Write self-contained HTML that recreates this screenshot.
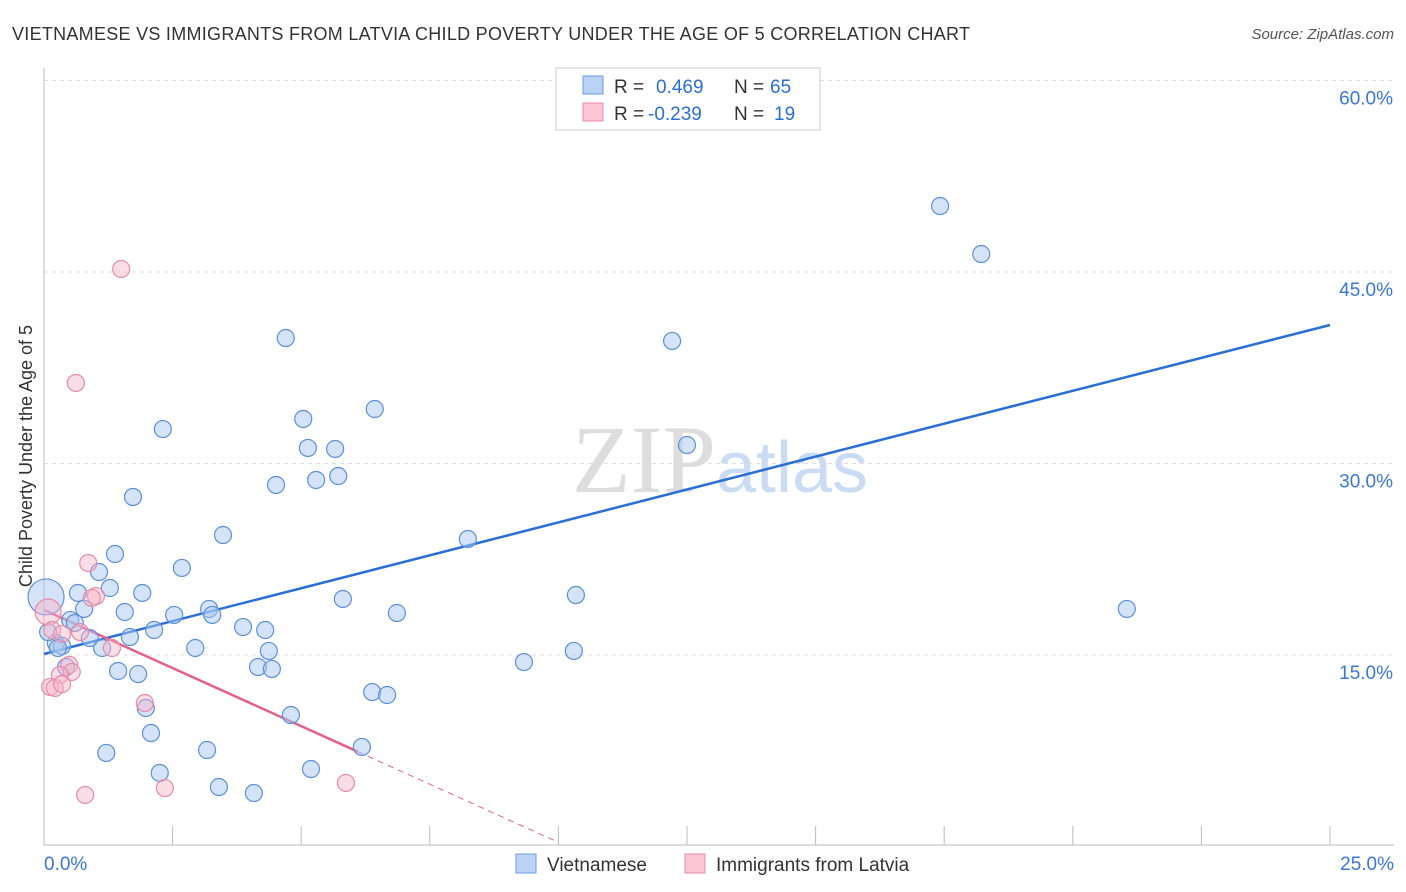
<!DOCTYPE html>
<html><head><meta charset="utf-8"><style>
body{margin:0;background:#fff;font-family:"Liberation Sans",sans-serif;}
svg{display:block}
</style></head><body>
<svg id="chart" width="1406" height="892">
<text x="12" y="40" font-size="18" fill="#333" textLength="958">VIETNAMESE VS IMMIGRANTS FROM LATVIA CHILD POVERTY UNDER THE AGE OF 5 CORRELATION CHART</text>
<text x="1394" y="39" font-size="15" fill="#555" font-style="italic" text-anchor="end">Source: ZipAtlas.com</text>
<text x="32" y="456" font-size="18" fill="#333" text-anchor="middle" transform="rotate(-90 32 456)">Child Poverty Under the Age of 5</text>
<text x="720" y="492" font-size="96" fill="#ddd" text-anchor="middle" font-family="Liberation Serif,serif">ZIP<tspan fill="#c9dcf3" font-family="Liberation Sans,sans-serif" font-size="72">atlas</tspan></text>
<g id="grid"></g><g id="lines"></g><g id="pts"></g>
<g>
<rect x="556" y="68" width="264" height="62" fill="#fff" stroke="#ccc"/>
<rect x="583" y="76" width="20" height="18" fill="#b9d2f5" stroke="#6a9de0"/>
<rect x="583" y="103" width="20" height="18" fill="#f9c6d6" stroke="#e88aa8"/>
<text x="614" y="93" font-size="19" fill="#333">R = <tspan fill="#2a6fd6" x="656">0.469</tspan><tspan x="734" fill="#333">N = </tspan><tspan fill="#2a6fd6" x="770">65</tspan></text>
<text x="614" y="120" font-size="19" fill="#333">R = <tspan fill="#2a6fd6" x="648">-0.239</tspan><tspan x="734" fill="#333">N = </tspan><tspan fill="#2a6fd6" x="774">19</tspan></text>
</g>
<g>
<rect x="516" y="854" width="20" height="19" fill="#b9d2f5" stroke="#6a9de0"/>
<text x="547" y="871" font-size="19" fill="#333">Vietnamese</text>
<rect x="685" y="854" width="20" height="19" fill="#f9c6d6" stroke="#e88aa8"/>
<text x="716" y="871" font-size="19" fill="#333">Immigrants from Latvia</text>
</g>
</svg>
<script>
const yTicks=[15,30,45,60];
const xTickLabels=["0.0%","25.0%"];
const blueX=[17.42,18.22,4.70,12.21,2.31,6.43,5.04,5.13,5.66,12.50,1.73,4.51,5.29,5.72,3.48,8.24,1.38,2.68,1.07,1.28,0.66,1.91,5.81,10.34,21.05,1.57,0.78,3.21,2.53,3.27,6.86,2.14,3.87,4.30,0.51,0.60,1.67,0.89,2.94,1.13,4.37,0.23,0.35,10.30,9.33,4.16,4.43,1.44,1.83,0.43,6.38,6.67,1.98,4.80,2.08,6.18,1.21,3.17,2.25,5.19,3.40,4.08,0.04,0.08,0.27];
const blueY=[51.5,47.74,41.16,40.93,34.03,35.6,34.82,32.55,32.47,32.78,28.71,29.65,30.04,30.35,25.73,25.42,24.24,23.15,22.83,21.58,21.19,21.19,20.72,21.03,19.94,19.7,19.94,19.94,19.47,19.47,19.62,18.29,18.52,18.29,19.07,18.84,17.74,17.66,16.88,16.88,16.65,17.27,17.04,16.65,15.78,15.39,15.24,15.08,14.84,15.39,13.43,13.2,12.18,11.63,10.22,9.13,8.66,8.89,7.09,7.4,5.99,5.52,20.88,18.13,16.88];
const pinkX=[1.50,0.62,0.86,1.01,0.93,0.08,0.16,0.35,0.70,1.32,0.49,0.54,0.31,0.12,0.21,0.35,1.96,2.35,0.80,5.87];
const pinkY=[46.57,37.64,23.54,20.95,20.80,19.70,18.29,17.98,18.13,16.88,15.55,15.0,14.77,13.83,13.75,14.06,12.57,5.91,5.37,6.31];
const blueLine=[16.41,42.18];
const pinkLine=[19.86,-1.82];
const NS="http://www.w3.org/2000/svg";
const X=v=>44+v/25*1286, Y=v=>863.5-v/15*191.5;
function mk(p,t,a){const e=document.createElementNS(NS,t);for(const k in a)e.setAttribute(k,a[k]);p.appendChild(e);return e;}
const g=document.getElementById('grid');
mk(g,'line',{x1:44,y1:68,x2:44,y2:845,stroke:'#bbb'});
mk(g,'line',{x1:44,y1:845,x2:1394,y2:845,stroke:'#bbb'});
for(let i=1;i<=10;i++){mk(g,'line',{x1:44+i*128.6,y1:826,x2:44+i*128.6,y2:845,stroke:'#bbb'});}
yTicks.forEach(t=>{mk(g,'line',{x1:44,y1:Y(t)-17,x2:1394,y2:Y(t)-17,stroke:'#ddd','stroke-dasharray':'4,4'});
const tx=mk(g,'text',{x:1393,y:Y(t)+7,'font-size':19,fill:'#3a78d8','text-anchor':'end'});tx.textContent=t.toFixed(1)+'%';

});
const l0=mk(g,'text',{x:44,y:870,'font-size':19,fill:'#3a78d8'});l0.textContent=xTickLabels[0];


const l1=mk(g,'text',{x:1394,y:870,'font-size':19,fill:'#3a78d8','text-anchor':'end'});l1.textContent=xTickLabels[1];


const P=document.getElementById('pts');
blueX.forEach((x,i)=>{const big=(i==62);const c=mk(P,'circle',{cx:X(x),cy:Y(blueY[i]),r:big?18:8.5,fill:'rgba(170,200,240,0.5)',stroke:'#5b90dc','stroke-width':1.2});

});
pinkX.forEach((x,i)=>{const c=mk(P,'circle',{cx:X(x),cy:Y(pinkY[i]),r:i==5?13:8.5,fill:'rgba(247,180,200,0.45)',stroke:'#e88aa8','stroke-width':1.2});

});
const L=document.getElementById('lines');
const bl=mk(L,'line',{x1:X(0),y1:Y(blueLine[0]),x2:X(25),y2:Y(blueLine[1]),stroke:'#2a6fd6','stroke-width':2.5});


const pf=v=>pinkLine[0]+pinkLine[1]*v;
const pl=mk(L,'line',{x1:X(0),y1:Y(pf(0)),x2:X(6.1),y2:Y(pf(6.1)),stroke:'#e4608a','stroke-width':2.5});


const pd=mk(L,'line',{x1:X(6.1),y1:Y(pf(6.1)),x2:X(10),y2:Y(pf(10)),stroke:'#e4608a','stroke-width':1,'stroke-dasharray':'6,5'});


</script>
</body></html>
